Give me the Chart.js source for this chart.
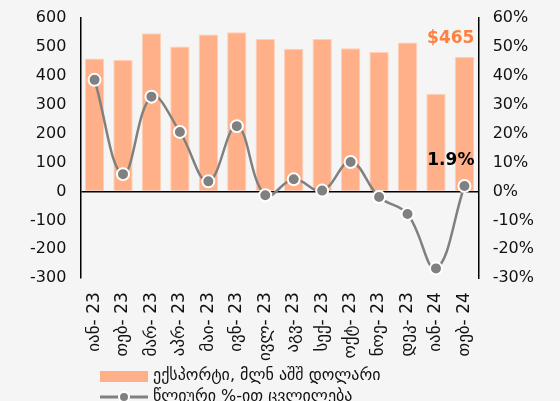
<!DOCTYPE html>
<html>
<head>
<meta charset="utf-8">
<script src="https://cdn.jsdelivr.net/npm/chart.js@4.4.1/dist/chart.umd.min.js"></script>
<style>
  body { margin: 0; background: #f5f5f5; }
  #wrap { width: 560px; height: 401px; }
</style>
</head>
<body>
<div id="wrap"><canvas id="exportChart" width="560" height="401"></canvas></div>
<script>
const months = ['იან- 23', 'თებ- 23', 'მარ- 23', 'აპრ- 23', 'მაი- 23', 'ივნ- 23', 'ივლ- 23',
                'აგვ- 23', 'სექ- 23', 'ოქტ- 23', 'ნოე- 23', 'დეკ- 23', 'იან- 24', 'თებ- 24'];
const exports = [460, 456, 547, 501, 543, 551, 527, 494, 527, 495, 482, 515, 338, 465];
const yoyChange = [38.6, 6.0, 32.8, 20.6, 3.5, 22.6, -1.3, 4.2, 0.3, 10.2, -1.9, -7.8, -26.6, 1.9];
const seriesNames = ['ექსპორტი, მლნ აშშ დოლარი', 'წლიური %-ით ცვლილება'];

const FONT = 'DejaVu Sans';
const barColor = '#FFB088';
const lineColor = '#808080';

// draws the two call-outs and the legend under the axis labels
const extras = {
  id: 'extras',
  afterDraw(chart) {
    const c = chart.ctx;
    const x = chart.scales.x, y = chart.scales.y, y1 = chart.scales.y1;
    const last = months.length - 1;
    const right = x.getPixelForValue(last) + 10;
    c.save();
    c.textAlign = 'right';
    c.textBaseline = 'alphabetic';
    c.font = 'bold 17px ' + FONT;
    c.fillStyle = '#FF8040';
    c.fillText('$' + exports[last], right, y.getPixelForValue(exports[last]) - 14);
    c.fillStyle = '#000';
    c.fillText(yoyChange[last] + '%', right, y1.getPixelForValue(yoyChange[last]) - 21);

    // legend
    const lx = 100, ly1 = 376, ly2 = 397;
    c.fillStyle = barColor;
    c.fillRect(lx, ly1 - 5, 48, 11);
    c.strokeStyle = lineColor;
    c.lineWidth = 3;
    c.beginPath();
    c.moveTo(lx, ly2); c.lineTo(lx + 48, ly2); c.stroke();
    c.beginPath();
    c.arc(lx + 24, ly2, 5, 0, Math.PI * 2);
    c.fillStyle = lineColor; c.fill();
    c.lineWidth = 2; c.strokeStyle = '#fff'; c.stroke();
    c.font = '16px ' + FONT;
    c.fillStyle = '#111';
    c.textAlign = 'left';
    c.textBaseline = 'middle';
    c.fillText(seriesNames[0], lx + 53, ly1);
    c.fillText(seriesNames[1], lx + 53, ly2);
    c.restore();
  }
};

const noVertPad = s => { s.paddingTop = 0; s.paddingBottom = 0; };

new Chart(document.getElementById('exportChart'), {
  data: {
    labels: months,
    datasets: [{
      type: 'line',
      label: seriesNames[1],
      data: yoyChange,
      yAxisID: 'y1',
      borderColor: lineColor,
      borderWidth: 2.5,
      tension: 0.4,
      pointRadius: 6,
      pointBackgroundColor: lineColor,
      pointBorderColor: '#fff',
      pointBorderWidth: 2,
      order: 0
    }, {
      type: 'bar',
      label: seriesNames[0],
      data: exports,
      yAxisID: 'y',
      backgroundColor: barColor,
      borderColor: '#FFD0B5',
      borderWidth: 1,
      categoryPercentage: 1,
      barPercentage: 0.68,
      order: 1
    }]
  },
  options: {
    responsive: false,
    animation: false,
    layout: { padding: { left: 16, right: 12, top: 18, bottom: 34 } },
    plugins: {
      legend: { display: false },
      tooltip: { enabled: false }
    },
    scales: {
      x: {
        grid: { display: false },
        border: { display: false },
        ticks: {
          color: '#111',
          font: { family: FONT, size: 17 },
          minRotation: 90,
          maxRotation: 90,
          padding: 6
        }
      },
      y: {
        position: 'left',
        min: -300,
        max: 600,
        afterFit: noVertPad,
        ticks: {
          stepSize: 100,
          color: '#111',
          font: { family: FONT, size: 16 },
          padding: 14
        },
        border: { display: true, color: '#000', width: 1.5 },
        grid: {
          drawTicks: false,
          color: ctx => ctx.tick && ctx.tick.value === 0 ? '#000' : 'transparent',
          lineWidth: 1.5
        }
      },
      y1: {
        position: 'right',
        min: -30,
        max: 60,
        afterFit: noVertPad,
        ticks: {
          stepSize: 10,
          color: '#111',
          font: { family: FONT, size: 16 },
          padding: 14,
          callback: v => v + '%'
        },
        border: { display: true, color: '#000', width: 1.5 },
        grid: { display: false, drawTicks: false }
      }
    }
  },
  plugins: [extras]
});
</script>
</body>
</html>
